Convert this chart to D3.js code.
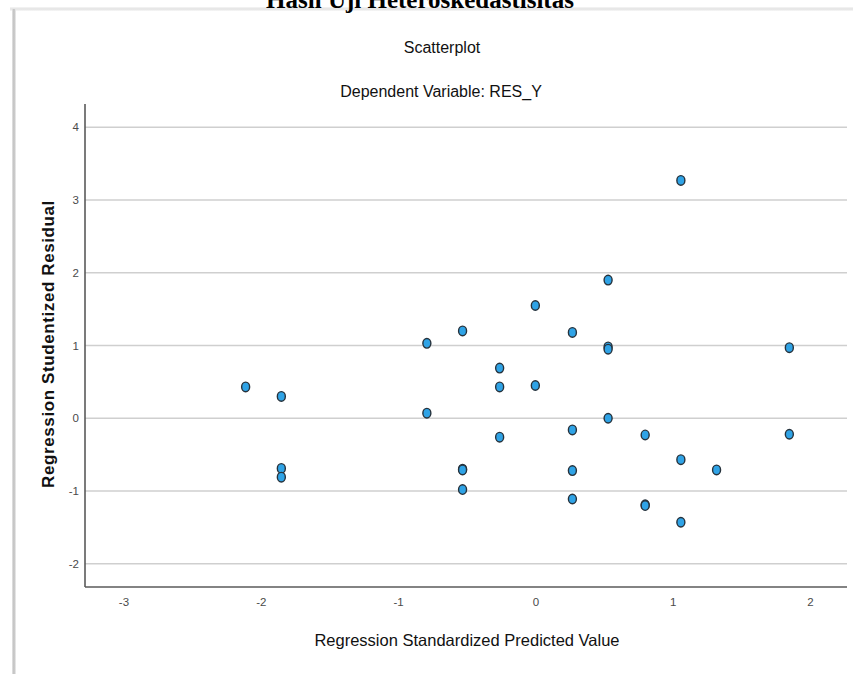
<!DOCTYPE html>
<html>
<head>
<meta charset="utf-8">
<script src="https://cdn.jsdelivr.net/npm/d3@7"></script>
<style>
  html, body { margin: 0; padding: 0; background: #fff; }
  svg { display: block; }
</style>
</head>
<body>
<svg id="chart" width="853" height="674"></svg>
<script>
// Data
const predicted = [-2.11, -1.85, -1.85, -1.85, -0.79, -0.79, -0.53, -0.53, -0.53, -0.53,
                   -0.26, -0.26, -0.26, 0.00, 0.00, 0.27, 0.27, 0.27, 0.27,
                   0.53, 0.53, 0.53, 0.53, 0.80, 0.80, 0.80, 1.06, 1.06, 1.06, 1.32, 1.85, 1.85];
const residual  = [0.43, 0.30, -0.69, -0.81, 1.03, 0.07, 1.20, -0.70, -0.71, -0.98,
                   0.69, 0.43, -0.26, 1.55, 0.45, 1.18, -0.16, -0.72, -1.11,
                   1.90, 0.98, 0.95, 0.00, -0.23, -1.19, -1.20, 3.27, -0.57, -1.43, -0.71, 0.97, -0.22];
const xTicks = [-3, -2, -1, 0, 1, 2];
const yTicks = [-2, -1, 0, 1, 2, 3, 4];
const pageTitle = "Hasil Uji Heteroskedastisitas";
const chartTitle = "Scatterplot";
const chartSubtitle = "Dependent Variable: RES_Y";
const xLabel = "Regression Standardized Predicted Value";
const yLabel = "Regression Studentized Residual";

const svg = d3.select("#chart");
const plotLeft = 85, plotRight = 847, plotTop = 104, plotBottom = 587;

const x = d3.scaleLinear().domain([-3.28, 2.27]).range([plotLeft, plotRight]);
const y = d3.scaleLinear().domain([-2.32, 4.32]).range([plotBottom, plotTop]);

// defs for frame shadow
const defs = svg.append("defs");
const lg = defs.append("linearGradient").attr("id", "lshadow").attr("x1", "0").attr("x2", "1");
lg.append("stop").attr("offset", "0").attr("stop-color", "#e6e6e6");
lg.append("stop").attr("offset", "0.5").attr("stop-color", "#bcbcbc");
lg.append("stop").attr("offset", "1").attr("stop-color", "#f2f2f2");
const tg = defs.append("linearGradient").attr("id", "tshadow").attr("x1", "0").attr("x2", "0").attr("y1", "0").attr("y2", "1");
tg.append("stop").attr("offset", "0").attr("stop-color", "#f6f6f6");
tg.append("stop").attr("offset", "0.5").attr("stop-color", "#e2e2e2");
tg.append("stop").attr("offset", "1").attr("stop-color", "#f8f8f8");

// page frame (screenshot border)
svg.append("rect").attr("x", 10).attr("y", 7).attr("width", 843).attr("height", 4).attr("fill", "url(#tshadow)");
svg.append("rect").attr("x", 12).attr("y", 9).attr("width", 4).attr("height", 665).attr("fill", "url(#lshadow)");

// page title (cut at the top edge, as in the source picture)
svg.append("text")
  .attr("x", 420).attr("y", 8)
  .attr("text-anchor", "middle")
  .attr("font-family", "'Liberation Serif', 'Times New Roman', serif")
  .attr("font-weight", "bold")
  .attr("font-size", 25)
  .attr("fill", "#000")
  .text(pageTitle);

// gridlines
svg.append("g").selectAll("line").data(yTicks).join("line")
  .attr("x1", plotLeft).attr("x2", plotRight)
  .attr("y1", d => y(d)).attr("y2", d => y(d))
  .attr("stroke", "#cfcfcf").attr("stroke-width", 1.6);

// axes
const fmt = d => String(d);
const yAxis = d3.axisLeft(y).tickValues(yTicks).tickSize(0).tickPadding(6).tickFormat(fmt);
const xAxis = d3.axisBottom(x).tickValues(xTicks).tickSize(0).tickPadding(11).tickFormat(fmt);

const gy = svg.append("g").attr("transform", `translate(${plotLeft},0)`).call(yAxis);
const gx = svg.append("g").attr("transform", `translate(0,${plotBottom})`).call(xAxis);
[gx, gy].forEach(g => {
  g.select(".domain").attr("stroke", "#5a5a5a").attr("stroke-width", 1.6);
  g.selectAll("text")
    .attr("font-family", "'Liberation Sans', Arial, sans-serif")
    .attr("font-size", 11.5)
    .attr("fill", "#4a4a4a");
});
gx.select(".domain").attr("d", `M${plotLeft},0H${plotRight}`);
gy.select(".domain").attr("d", `M0,${plotBottom}V${plotTop}`);

// points
svg.append("g").selectAll("ellipse").data(predicted.map((p, i) => [p, residual[i]])).join("ellipse")
  .attr("cx", d => x(d[0]))
  .attr("cy", d => y(d[1]))
  .attr("rx", 4)
  .attr("ry", 4.8)
  .attr("fill", "#2fa3e6")
  .attr("stroke", "#26323c")
  .attr("stroke-width", 1.4);

// titles
svg.append("text")
  .attr("x", 442).attr("y", 53)
  .attr("text-anchor", "middle")
  .attr("font-family", "'Liberation Sans', Arial, sans-serif")
  .attr("font-size", 16)
  .attr("fill", "#111")
  .text(chartTitle);
svg.append("text")
  .attr("x", 441).attr("y", 97)
  .attr("text-anchor", "middle")
  .attr("font-family", "'Liberation Sans', Arial, sans-serif")
  .attr("font-size", 16)
  .attr("fill", "#111")
  .text(chartSubtitle);

// axis labels
svg.append("text")
  .attr("x", 467).attr("y", 646)
  .attr("text-anchor", "middle")
  .attr("font-family", "'Liberation Sans', Arial, sans-serif")
  .attr("font-size", 16.5)
  .attr("fill", "#111")
  .text(xLabel);
svg.append("text")
  .attr("transform", "translate(54,344) rotate(-90)")
  .attr("text-anchor", "middle")
  .attr("font-family", "'Liberation Sans', Arial, sans-serif")
  .attr("font-weight", "bold")
  .attr("font-size", 17)
  .attr("letter-spacing", 0.6)
  .attr("fill", "#111")
  .text(yLabel);
</script>
</body>
</html>
